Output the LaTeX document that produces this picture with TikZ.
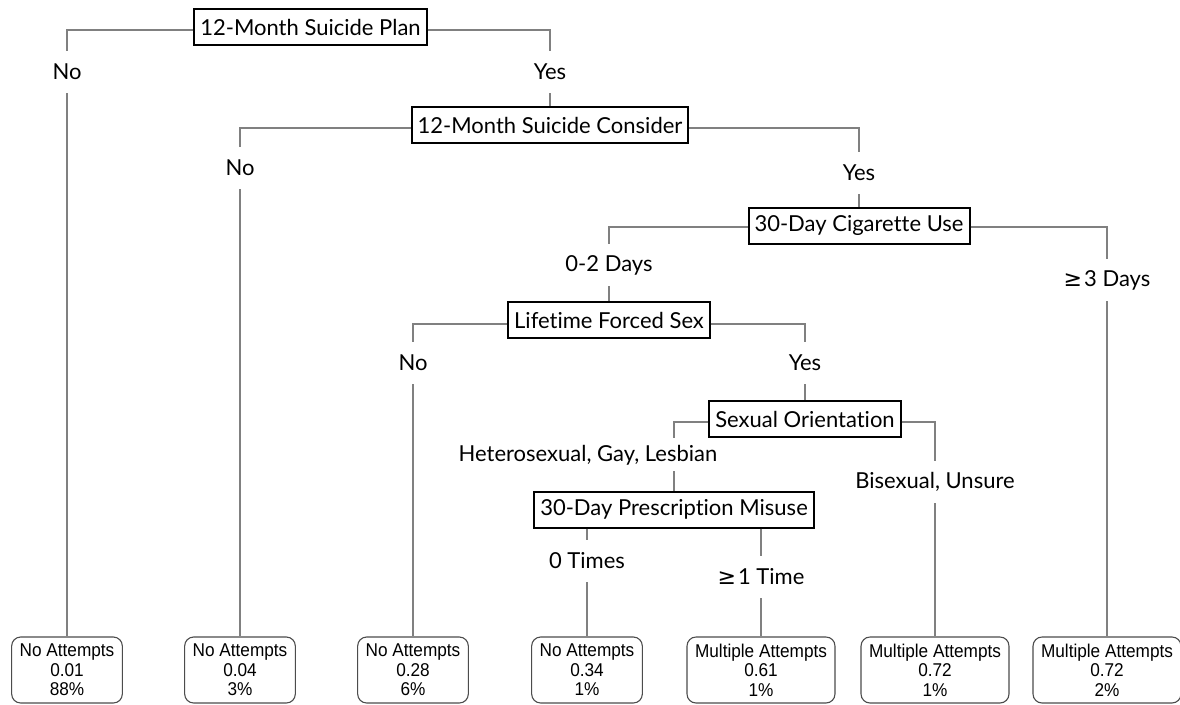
\documentclass[tikz,border=0pt]{standalone}
\usepackage{fontspec}
\setmainfont{Lato}[Ligatures={NoCommon}]
\newfontfamily\leaffont{Liberation Sans}[FakeStretch=0.93]
\newfontfamily\symfont{DejaVu Sans}
\newcommand{\atleast}{{\symfont ≥}\kern2pt}
\begin{document}
\begin{tikzpicture}[x=1pt,y=-1pt,
  conn/.style={draw=black!50, line width=1.5pt},
  decision/.style={draw=black, line width=2pt, fill=white, inner xsep=6pt,
    minimum height=36pt, font=\fontsize{22}{26}\selectfont},
  branch/.style={inner sep=0pt, minimum height=42pt, font=\fontsize{22}{26}\selectfont},
  leaf/.style={draw=black!70, line width=1.1pt, rounded corners=9pt, align=center,
    inner xsep=8pt, inner ysep=0pt, minimum height=66pt, minimum width=110pt,
    font=\leaffont\fontsize{18.5}{19.5}\selectfont}]
\useasboundingbox (0,0) rectangle (1180,704);
\fill[white] (0,0) rectangle (1180,704);

% decision boxes
\node[decision] (plan)     at (310.5,27) {12-Month Suicide Plan};
\node[decision] (consider) at (550,125)  {12-Month Suicide Consider};
\node[decision] (cig)      at (859,225.5){30-Day Cigarette Use};
\node[decision] (forced)   at (609,320)  {Lifetime Forced Sex};
\node[decision] (orient)   at (805,419)  {Sexual Orientation};
\node[decision] (rx)       at (674,509.5){30-Day Prescription Misuse};

% branch labels
\node[branch] (planNo)   at (67,72)   {No};
\node[branch] (planYes)  at (550,72)  {Yes};
\node[branch] (consNo)   at (240,168) {No};
\node[branch] (consYes)  at (859,173) {Yes};
\node[branch] (cigLow)   at (609,265) {0-2 Days};
\node[branch] (cigHigh)  at (1107,280){\atleast3 Days};
\node[branch] (forcNo)   at (413,363) {No};
\node[branch] (forcYes)  at (805,363) {Yes};
\node[branch, minimum height=32pt] (oriHet) at (588,455) {Heterosexual, Gay, Lesbian};
\node[branch] (oriBi)    at (935,482) {Bisexual, Unsure};
\node[branch] (rxZero)   at (587,561) {0 Times};
\node[branch] (rxOne)    at (761,577) {\atleast1 Time};

% outcome leaves
\node[leaf] (L1) at (67,670)   {No Attempts\\0.01\\88\%};
\node[leaf] (L2) at (240,670)  {No Attempts\\0.04\\3\%};
\node[leaf] (L3) at (413,670)  {No Attempts\\0.28\\6\%};
\node[leaf] (L4) at (587,670)  {No Attempts\\0.34\\1\%};
\node[leaf] (L5) at (761,670)  {Multiple Attempts\\0.61\\1\%};
\node[leaf] (L6) at (935,670)  {Multiple Attempts\\0.72\\1\%};
\node[leaf] (L7) at (1107,670) {Multiple Attempts\\0.72\\2\%};

% connectors
\draw[conn] ([yshift=-3pt]plan.west) -| (planNo.north);
\draw[conn] (planNo.south) -- (L1.north);
\draw[conn] ([yshift=-3pt]plan.east) -| (planYes.north);
\draw[conn] (planYes.south) -- (consider.north);

\draw[conn] ([yshift=-3pt]consider.west) -| (consNo.north);
\draw[conn] (consNo.south) -- (L2.north);
\draw[conn] ([yshift=-3pt]consider.east) -| (consYes.north);
\draw[conn] (consYes.south) -- (cig.north);

\draw[conn] ([yshift=-1.5pt]cig.west) -| (cigLow.north);
\draw[conn] (cigLow.south) -- (forced.north);
\draw[conn] ([yshift=-1.5pt]cig.east) -| (cigHigh.north);
\draw[conn] (cigHigh.south) -- (L7.north);

\draw[conn] ([yshift=-4pt]forced.west) -| (forcNo.north);
\draw[conn] (forcNo.south) -- (L3.north);
\draw[conn] ([yshift=-4pt]forced.east) -| (forcYes.north);
\draw[conn] (forcYes.south) -- (orient.north);

\draw[conn] ([yshift=-3pt]orient.west) -| (rx.north |- orient.south);
\draw[conn] (rx.north |- oriHet.south) -- (rx.north);
\draw[conn] ([yshift=-3pt]orient.east) -| (oriBi.north);
\draw[conn] (oriBi.south) -- (L6.north);

\draw[conn] (rxZero.north |- rx.south) -- (rxZero.north);
\draw[conn] (rxZero.south) -- (L4.north);
\draw[conn] (rxOne.north |- rx.south) -- (rxOne.north);
\draw[conn] (rxOne.south) -- (L5.north);
\end{tikzpicture}
\end{document}
